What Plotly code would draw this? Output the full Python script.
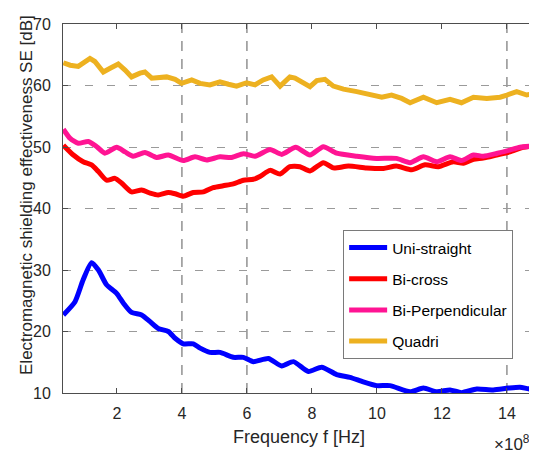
import plotly.graph_objects as go

# ---- data (frequency in units of 1e8 Hz, SE in dB) ----
uni_f = [0.35, 0.71, 0.96, 1.22, 1.43, 1.68, 1.99, 2.2, 2.45, 2.76, 3.02, 3.27, 3.58, 3.79, 4.04, 4.35,
         4.56, 4.86, 5.17, 5.58, 5.89, 6.2, 6.66, 7.07, 7.43, 7.89, 8.3, 8.76, 9.17, 9.58, 9.99, 10.4,
         11.02, 11.43, 11.84, 12.25, 12.6, 13.07, 13.58, 14.04, 14.4, 14.71, 14.92]
uni_se = [22.7, 24.85, 28.4, 31.2, 30.0, 27.6, 26.2, 24.6, 23.1, 22.7, 21.6, 20.5, 20.0, 18.9, 18.0, 18.0,
          17.3, 16.6, 16.6, 15.8, 15.8, 15.1, 15.6, 14.4, 15.1, 13.5, 14.2, 13.0, 12.55, 11.8, 11.2, 11.2,
          10.2, 10.8, 10.2, 10.5, 10.05, 10.65, 10.5, 10.8, 10.95, 10.65, 10.8]

cross_f = [0.35, 0.66, 0.96, 1.22, 1.43, 1.68, 1.94, 2.15, 2.45, 2.76, 3.02, 3.27, 3.58, 3.79, 4.04, 4.35,
           4.66, 4.96, 5.27, 5.58, 5.89, 6.2, 6.4, 6.71, 7.02, 7.32, 7.63, 7.94, 8.35, 8.66, 9.12, 9.68,
           10.2, 10.6, 11.07, 11.48, 11.89, 12.35, 12.66, 12.97, 13.27, 13.68, 14.09, 14.5, 14.92]
cross_se = [50.3, 48.7, 47.6, 47.1, 46.0, 44.6, 44.9, 44.1, 42.7, 43.0, 42.5, 42.2, 42.6, 42.4, 42.0, 42.6,
            42.7, 43.4, 43.7, 44.0, 44.6, 44.75, 45.2, 46.2, 45.6, 46.8, 46.8, 46.1, 47.45, 46.6, 46.9, 46.6,
            46.5, 46.9, 46.3, 47.1, 46.8, 47.6, 47.35, 48.0, 48.2, 48.7, 49.2, 49.95, 50.2]

perp_f = [0.35, 0.56, 0.81, 1.12, 1.38, 1.63, 1.99, 2.25, 2.5, 2.86, 3.22, 3.58, 4.04, 4.4, 4.76, 5.17,
          5.53, 5.89, 6.25, 6.71, 7.07, 7.5, 7.94, 8.35, 8.76, 9.38, 9.99, 10.6, 11.02, 11.43, 11.84,
          12.25, 12.6, 12.97, 13.27, 13.68, 14.09, 14.4, 14.92]
perp_se = [52.9, 51.4, 50.6, 50.9, 50.05, 49.0, 49.95, 49.2, 48.5, 49.1, 48.3, 48.7, 47.8, 48.4, 47.9, 48.4,
           48.3, 48.9, 48.5, 49.6, 48.8, 49.95, 48.7, 50.05, 49.0, 48.5, 48.15, 48.15, 47.45, 48.4, 47.6,
           48.4, 47.8, 48.7, 48.5, 48.95, 49.5, 49.95, 50.2]

quad_f = [0.35, 0.56, 0.81, 0.96, 1.17, 1.32, 1.58, 1.79, 2.04, 2.25, 2.45, 2.71, 2.86, 3.07, 3.32, 3.53,
          3.79, 3.99, 4.3, 4.56, 4.86, 5.17, 5.43, 5.68, 5.99, 6.25, 6.5, 6.76, 7.02, 7.32, 7.48, 7.94,
          8.15, 8.4, 8.66, 8.97, 9.38, 9.79, 10.15, 10.45, 10.76, 11.02, 11.43, 11.84, 12.25, 12.6,
          12.97, 13.38, 13.79, 14.0, 14.3, 14.61, 14.92]
quad_se = [63.7, 63.3, 63.1, 63.6, 64.4, 63.9, 62.2, 62.8, 63.5, 62.5, 61.4, 62.0, 62.2, 61.2, 61.2, 61.4,
           61.0, 60.35, 60.9, 60.35, 60.1, 60.6, 60.2, 59.9, 60.45, 60.1, 60.9, 61.4, 59.9, 61.4, 61.2, 59.8,
           60.8, 61.0, 59.9, 59.4, 59.0, 58.6, 58.1, 58.45, 57.9, 57.2, 58.1, 57.2, 57.75, 57.2,
           58.1, 57.9, 58.1, 58.45, 59.0, 58.45, 58.8]

series_names = ["Uni-straight", "Bi-cross", "Bi-Perpendicular", "Quadri"]
series_colors = ["#0000FF", "#FF0000", "#FF1493", "#EDB120"]
x_ticks = [2, 4, 6, 8, 10, 12, 14]
y_ticks = [10, 20, 30, 40, 50, 60, 70]
vgrid_x = [4, 6, 14]

FONT = "Liberation Sans, Arial, sans-serif"
TXT = "#262626"

fig = go.Figure()
data = [(uni_f, uni_se), (cross_f, cross_se), (perp_f, perp_se), (quad_f, quad_se)]
for i, ((fx, fy), name, col) in enumerate(zip(data, series_names, series_colors)):
    fig.add_trace(go.Scatter(
        x=fx, y=fy, name=name, mode="lines", legendgroup=f"g{i}",
        line=dict(color=col, width=5, shape="spline" if i < 3 else "linear", smoothing=0.6),
    ))

for xv in vgrid_x:
    fig.add_vline(x=xv, line=dict(color="#5a5a5a", width=1, dash="10px,8px"), layer="below")

# page body has an 8px default margin, so the figure is offset by 8px
fig.update_layout(
    width=529, height=442,
    margin=dict(l=55, r=0, t=16, b=57, autoexpand=False),
    paper_bgcolor="white", plot_bgcolor="white",
    font=dict(family=FONT, color=TXT, size=16),
    showlegend=True,
    legend=dict(
        x=0.591, y=0.4417, xanchor="left", yanchor="top",
        bgcolor="white", bordercolor="#7a7a7a", borderwidth=1,
        font=dict(size=15.5, color="black", family=FONT),
        tracegroupgap=8, traceorder="grouped", itemwidth=38,
    ),
    xaxis=dict(
        range=[0.34, 14.925], tickvals=x_ticks, ticktext=[str(t) for t in x_ticks],
        showgrid=False, zeroline=False,
        showline=True, linecolor="#4d4d4d", linewidth=1, mirror="ticks",
        ticks="inside", ticklen=5, tickcolor="#4d4d4d",
        tickfont=dict(size=16, color=TXT), ticklabelstandoff=6,
    ),
    yaxis=dict(
        range=[10, 70], tickvals=y_ticks, ticktext=[str(t) for t in y_ticks],
        showgrid=True, gridcolor="#9a9a9a", gridwidth=1, griddash="8px,14px",
        zeroline=False,
        showline=True, linecolor="#4d4d4d", linewidth=1, mirror=False,
        ticks="inside", ticklen=5, tickcolor="#4d4d4d",
        tickfont=dict(size=16, color=TXT), ticklabelstandoff=8,
    ),
    annotations=[
        dict(text="Frequency f [Hz]", xref="paper", yref="paper", x=0.498, y=-0.119,
             xanchor="center", yanchor="middle", showarrow=False, font=dict(size=18, color=TXT)),
        dict(text="Electromagnetic shielding effectiveness SE [dB]", xref="paper", yref="paper",
             x=-0.076, y=0.5366, xanchor="center", yanchor="middle", textangle=-90,
             showarrow=False, font=dict(size=17, color=TXT)),
        dict(text="×10<sup>8</sup>", xref="paper", yref="paper", x=0.905, y=-0.135,
             xanchor="left", yanchor="middle", showarrow=False, font=dict(size=17, color=TXT)),
    ],
)

fig.write_html("out.html")
